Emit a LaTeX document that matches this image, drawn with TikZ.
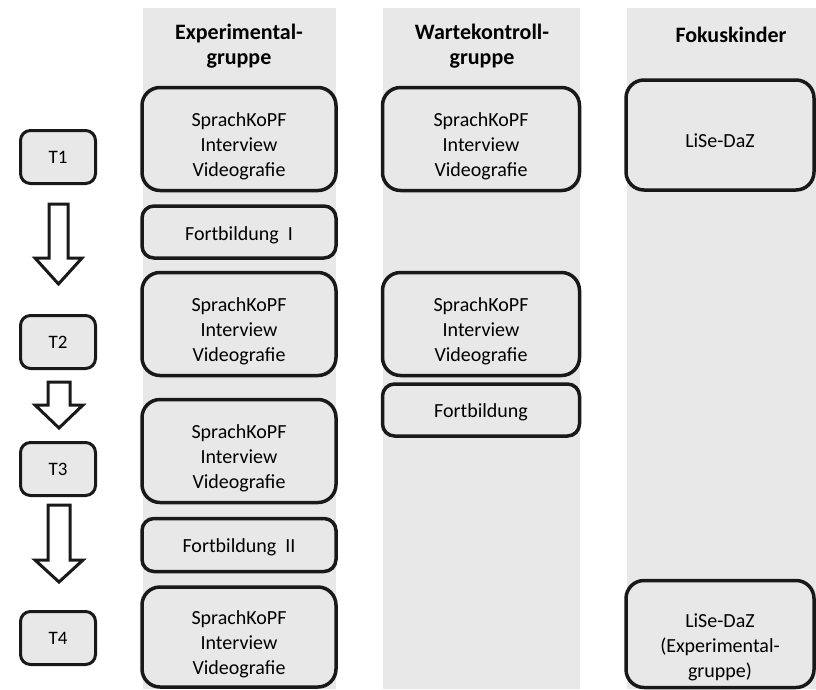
\documentclass[tikz,border=0pt]{standalone}
\usepackage{fontspec}
\setmainfont{Carlito}
\newcommand\bxt[2][-12.5pt]{\raisebox{#1}[0pt][0pt]{\begin{tabular}{@{}c@{}}#2\end{tabular}}}
\newcommand\onel[2]{\raisebox{#1}[0pt][0pt]{#2}}
\begin{document}
\begin{tikzpicture}[x=1pt,y=-1pt,
  colbg/.style={fill=black!9, draw=none},
  bigbox/.style={draw=black!90, line width=3.5pt, rounded corners=18pt, fill=black!9,
     align=center, font=\fontsize{20}{25}\selectfont, inner sep=0pt},
  smallbox/.style={bigbox, rounded corners=12pt},
  tbox/.style={draw=black!90, line width=3pt, rounded corners=10pt, fill=black!9,
     minimum width=75pt, minimum height=53pt, font=\fontsize{19}{22}\selectfont, inner sep=0pt},
  head/.style={align=center, font=\bfseries\fontsize{22}{25.5}\selectfont},
  blockarrow/.style={draw=black!90, line width=3pt, fill=white, line join=miter}
]
\useasboundingbox (0,0) rectangle (816,689);
% column backgrounds
\fill[colbg] (143,8) rectangle (336,689);
\fill[colbg] (383,8) rectangle (580,689);
\fill[colbg] (627,8) rectangle (816,689);
% headers
\node[head] (h1) at (239,46) {Experimental-\\gruppe};
\node[head] (h2) at (482,46) {Wartekontroll-\\gruppe};
\node[head] (h3) at (731,35) {Fokuskinder};
% experimental group
\node[bigbox, minimum width=194pt, minimum height=103pt] (a1) at (239,139) {\bxt{SprachKoPF\\Interview\\Videografie}};
\node[smallbox, minimum width=194pt, minimum height=52pt] (f1) at (239,232) {\onel{-8pt}{Fortbildung\ \ I}};
\node[bigbox, minimum width=194pt, minimum height=103pt] (a2) at (239,324) {\bxt{SprachKoPF\\Interview\\Videografie}};
\node[bigbox, minimum width=194pt, minimum height=103pt] (a3) at (239,451) {\bxt{SprachKoPF\\Interview\\Videografie}};
\node[smallbox, minimum width=194pt, minimum height=53pt] (f2) at (239,545) {\onel{-7pt}{Fortbildung\ \ II}};
\node[bigbox, minimum width=194pt, minimum height=100pt] (a4) at (239,637) {\bxt{SprachKoPF\\Interview\\Videografie}};
% wait-control group
\node[bigbox, minimum width=197pt, minimum height=103pt] (b1) at (481,139) {\bxt{SprachKoPF\\Interview\\Videografie}};
\node[bigbox, minimum width=197pt, minimum height=103pt] (b2) at (481,324) {\bxt{SprachKoPF\\Interview\\Videografie}};
\node[smallbox, minimum width=197pt, minimum height=52pt] (fb) at (481,410) {\onel{-7pt}{Fortbildung}};
% focus children
\node[bigbox, minimum width=188pt, minimum height=110pt] (c1) at (720,135) {\onel{-12pt}{LiSe-DaZ}};
\node[bigbox, minimum width=188pt, minimum height=107pt] (c2) at (720,634) {\bxt[-19pt]{\fontsize{20}{23}\selectfont LiSe-DaZ\\(Experimental-\\gruppe)}};
% time points
\node[tbox] (t1) at (58,157) {T1};
\node[tbox] (t2) at (58,342) {T2};
\node[tbox] (t3) at (58,469) {T3};
\node[tbox] (t4) at (58,638) {T4};
% block arrows
\draw[blockarrow] (49,204) -- (68,204) -- (68,258) -- (82,258) -- (58.5,284) -- (35,258) -- (49,258) -- cycle;
\draw[blockarrow] (48,382) -- (70,382) -- (70,405) -- (83,405) -- (59,428) -- (35,405) -- (48,405) -- cycle;
\draw[blockarrow] (48,505) -- (70,505) -- (70,560) -- (83,560) -- (59,582) -- (35,560) -- (48,560) -- cycle;
\end{tikzpicture}
\end{document}
